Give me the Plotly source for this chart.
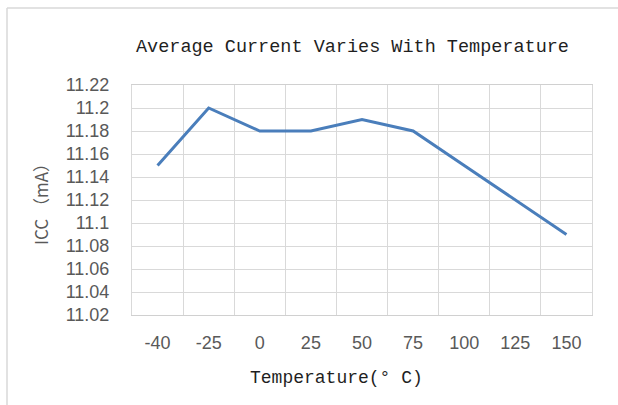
import plotly.graph_objects as go

temps = ["-40", "-25", "0", "25", "50", "75", "100", "125", "150"]
icc = [11.15, 11.20, 11.18, 11.18, 11.19, 11.18, 11.15, 11.12, 11.09]
y_ticks = [11.02, 11.04, 11.06, 11.08, 11.10, 11.12, 11.14, 11.16, 11.18, 11.20, 11.22]
y_ticktext = ["11.02", "11.04", "11.06", "11.08", "11.1", "11.12", "11.14", "11.16", "11.18", "11.2", "11.22"]

W, H = 618, 405
L, R, T, B = 132, 26, 85, 90
pw, ph = W - L - R, H - T - B

def px(x):
    return (x - L) / pw

def py(y):
    return (H - B - y) / ph

fig = go.Figure()
fig.add_trace(go.Scatter(x=temps, y=icc, mode="lines",
                         line=dict(color="#4a7ebb", width=3), hoverinfo="skip"))

fig.update_layout(
    width=W, height=H, margin=dict(l=L, r=R, t=T, b=B, autoexpand=False),
    paper_bgcolor="white", plot_bgcolor="white", showlegend=False,
    xaxis=dict(type="category", tickson="boundaries", range=[-0.5, len(temps) - 0.5],
               showgrid=True, gridcolor="#d9d9d9", gridwidth=1, showline=True,
               linecolor="#d0d0d0", linewidth=1, mirror=True, ticks="", zeroline=False,
               tickfont=dict(family="Liberation Sans", size=18, color="#595959"),
               ticklabelstandoff=11),
    yaxis=dict(range=[11.02, 11.22], tickvals=y_ticks, ticktext=y_ticktext,
               showgrid=True, gridcolor="#d9d9d9", gridwidth=1, showline=True,
               linecolor="#d9d9d9", linewidth=1, mirror=True, ticks="", zeroline=False,
               tickfont=dict(family="Liberation Sans", size=18, color="#595959"),
               ticklabelstandoff=18),
    annotations=[
        dict(text="Average Current Varies With Temperature", xref="paper", yref="paper",
             x=px(352), y=py(47), xanchor="center", yanchor="middle", showarrow=False,
             font=dict(family="Liberation Mono", size=18.5, color="#1f1f1f")),
        dict(text="Temperature(° C)", xref="paper", yref="paper",
             x=px(336), y=py(378), xanchor="center", yanchor="middle", showarrow=False,
             font=dict(family="Liberation Mono", size=18, color="#1f1f1f")),
        dict(text="ICC （mA）", xref="paper", yref="paper", textangle=-90,
             x=px(40), y=py(200), xanchor="center", yanchor="middle", showarrow=False,
             font=dict(family="Noto Sans CJK SC", size=17, color="#595959")),
    ],
    shapes=[
        dict(type="line", xref="paper", yref="paper", x0=px(7), x1=px(640),
             y0=py(8), y1=py(8), line=dict(color="#d9d9d9", width=1.5)),
        dict(type="line", xref="paper", yref="paper", x0=px(7), x1=px(7),
             y0=py(8), y1=py(420), line=dict(color="#d9d9d9", width=1.5)),
    ],
)

fig.write_html("out.html", config={"displayModeBar": False},
               post_script="document.body.style.margin='0';document.body.style.padding='0';")
